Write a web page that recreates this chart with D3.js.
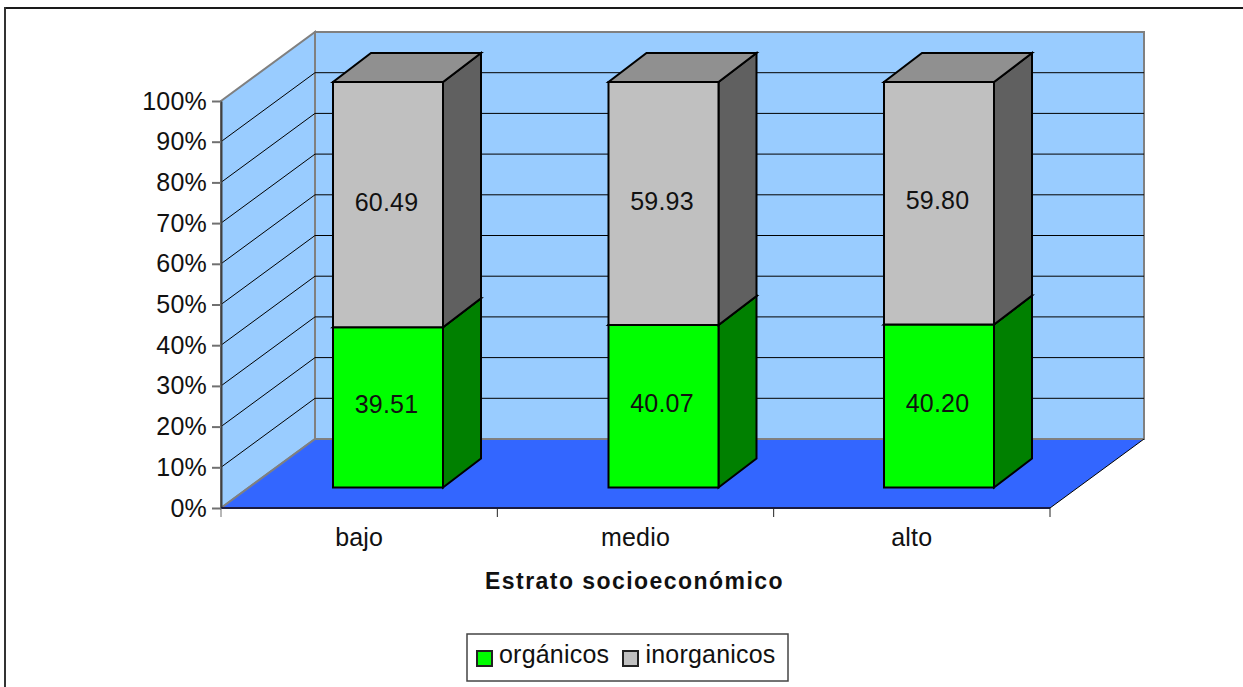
<!DOCTYPE html>
<html><head><meta charset="utf-8">
<script src="https://cdnjs.cloudflare.com/ajax/libs/d3/7.8.5/d3.min.js"></script>
<style>html,body{margin:0;padding:0;background:#fff}svg{display:block}text{font-family:"Liberation Sans",Arial,sans-serif;fill:#111;font-size:25px;letter-spacing:.2px}</style>
</head><body><svg id="c" width="1243" height="687"></svg>
<script>
const categories = ["bajo","medio","alto"];
const seriesNames = ["orgánicos","inorganicos"];
const organicos = [39.51,40.07,40.20];
const inorganicos = [60.49,59.93,59.80];
const yTicks = [0,10,20,30,40,50,60,70,80,90,100];
const axisTitle = "Estrato socioeconómico";

const svg = d3.select("#c");
const x = d3.scaleBand().domain(categories).range([221,1050]);
const y = d3.scaleLinear().domain([0,100]).range([508,101]);
const barX = d3.scalePoint().domain(categories).range([333,884]);
const barY = d3.scaleLinear().domain([0,100]).range([487.5,82]);
const wallDX = 94, wallDY = -69, barDX = 38, barDY = -29, barW = 110;
const P = (px,v,z)=>[px+wallDX*z, y(v)+wallDY*z];
const poly = (pts,fill,stroke,w)=>svg.append("polygon").attr("points",pts.map(p=>p.join(",")).join(" ")).attr("fill",fill).attr("stroke",stroke||"none").attr("stroke-width",w||0).attr("stroke-linejoin","miter");
const seg = (a,b,col,w)=>svg.append("line").attr("x1",a[0]).attr("y1",a[1]).attr("x2",b[0]).attr("y2",b[1]).attr("stroke",col).attr("stroke-width",w);
const L = x.range()[0], R = x.range()[1];

// chart frame: top and left edges only
seg([5,8],[1243,8],"#1a1a1a",2);
seg([5,7],[5,687],"#333",2);

// walls and floor
poly([P(L,0,1),P(R,0,1),P(R,100,1),P(L,100,1)],"#99ccff","#808080",2);
poly([P(L,0,0),P(L,0,1),P(L,100,1),P(L,100,0)],"#99ccff","#808080",2);
poly([P(L,0,0),P(R,0,0),P(R,0,1),P(L,0,1)],"#3366ff");
seg(P(L,0,0),P(L,0,1),"#808080",2);
seg(P(L,0,1),P(R,0,1),"#808080",2);
seg(P(R,0,0),P(R,0,1),"#000",1);

// gridlines
yTicks.filter(t=>t>0&&t<100).forEach(t=>{
  svg.append("polyline").attr("points",[P(L,t,0),P(L,t,1),P(R,t,1)].map(p=>p.join(",")).join(" ")).attr("fill","none").attr("stroke","#000").attr("stroke-width",1);
});

// axes
const yAxis = svg.append("g").attr("transform",`translate(${L},0)`).call(d3.axisLeft(y).tickValues(yTicks).tickFormat(d=>d+"%").tickSize(9).tickSizeOuter(0).tickPadding(5));
yAxis.selectAll("text").attr("dy",null).attr("y",8).style("font-size","25px");
yAxis.selectAll("line").attr("stroke","#707070").attr("stroke-width",2);
yAxis.select("path").attr("stroke","#404040").attr("stroke-width",2);
const xTickVals = [L, ...categories.map(c=>x(c)+x.bandwidth())];
seg([L,y(0)],[R,y(0)],"#1a1a40",2);
svg.selectAll(".xt").data(xTickVals).join("line").attr("class","xt").attr("x1",d=>d).attr("x2",d=>d).attr("y1",y(0)).attr("y2",y(0)+9).attr("stroke",(d,i)=>i?"#222":"#707070").attr("stroke-width",1);
svg.selectAll(".xl").data(categories).join("text").attr("class","xl").attr("x",d=>x(d)+x.bandwidth()/2).attr("y",546).attr("text-anchor","middle").text(d=>d);

// bars
const segs=[
 {vals:organicos,base:()=>0,face:"#00ff00",side:"#008000",top:"#008000"},
 {vals:inorganicos,base:i=>organicos[i],face:"#c0c0c0",side:"#606060",top:"#909090"}
];
categories.forEach((c,i)=>{
  const a=barX(c), b=a+barW;
  segs.forEach(s=>{
    const v0=s.base(i), v1=v0+s.vals[i];
    const y0=barY(v0), y1=barY(v1);
    poly([[b,y0],[b+barDX,y0+barDY],[b+barDX,y1+barDY],[b,y1]],s.side,"#000",2);
    poly([[a,y1],[b,y1],[b+barDX,y1+barDY],[a+barDX,y1+barDY]],s.top,"#000",2);
    poly([[a,y0],[b,y0],[b,y1],[a,y1]],s.face,"#000",2);
    svg.append("text").attr("x",a+53.5).attr("y",(y0+y1)/2+6).attr("text-anchor","middle").text(s.vals[i].toFixed(2));
  });
});

svg.append("text").attr("x",634.5).attr("y",589).attr("text-anchor","middle").style("font-size","23px").style("font-weight","bold").style("letter-spacing","1.45px").text(axisTitle);

// legend
svg.append("rect").attr("x",467).attr("y",634).attr("width",321).attr("height",47).attr("fill","#fff").attr("stroke","#444").attr("stroke-width",1.5);
const legendColors=["#00ff00","#c0c0c0"];
const swatchX=d3.scaleOrdinal().domain(seriesNames).range([477,623]);
const labelX=d3.scaleOrdinal().domain(seriesNames).range([499,645.5]);
seriesNames.forEach((n,i)=>{
  svg.append("rect").attr("x",swatchX(n)).attr("y",651).attr("width",15).attr("height",15).attr("fill",legendColors[i]).attr("stroke","#222").attr("stroke-width",2);
  svg.append("text").attr("x",labelX(n)).attr("y",662.5).text(n);
});
</script></body></html>
